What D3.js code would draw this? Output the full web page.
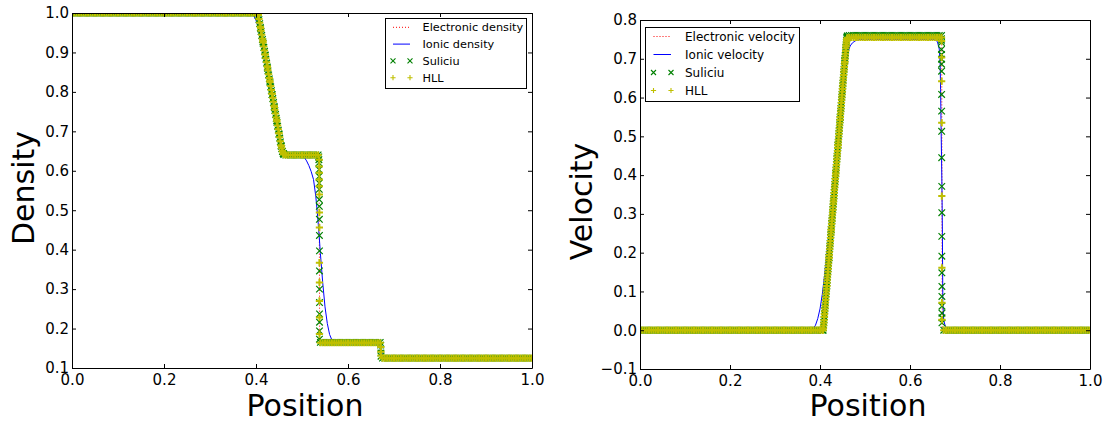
<!DOCTYPE html>
<html><head><meta charset="utf-8">
<script src="https://cdn.jsdelivr.net/npm/d3@7"></script>
<style>
body{margin:0;background:#fff}
svg{display:block}
text{font-family:"DejaVu Sans",sans-serif;fill:#000}
</style>
</head><body>
<svg id="chart" width="1107" height="426"></svg>
<script>
// ---------------- data ----------------
const positionTicks = [0.0, 0.2, 0.4, 0.6, 0.8, 1.0];
const densityTicks = [0.1, 0.2, 0.3, 0.4, 0.5, 0.6, 0.7, 0.8, 0.9, 1.0];
const velocityTicks = [-0.1, 0.0, 0.1, 0.2, 0.3, 0.4, 0.5, 0.6, 0.7, 0.8];
const densityLegend = ["Electronic density", "Ionic density", "Suliciu", "HLL"];
const velocityLegend = ["Electronic velocity", "Ionic velocity", "Suliciu", "HLL"];

// mesh cell positions (201 cells on [0,1])
const meshPositions = d3.range(201).map(i => i / 200);

const densitySuliciu = [
1,1,1,1,1,1,1,1,1,1,1,1,1,1,1,1,1,1,1,1,
1,1,1,1,1,1,1,1,1,1,1,1,1,1,1,1,1,1,1,1,
1,1,1,1,1,1,1,1,1,1,1,1,1,1,1,1,1,1,1,1,
1,1,1,1,1,1,1,1,1,1,1,1,1,1,1,1,1,1,1,1,
1,
.993,.96,.927,.893,.86,.827,.793,.76,.727,.693,.662,.643,
.64,.64,.64,.64,.64,.64,.64,.64,.64,.64,.64,.64,.64,.64,.64,
.165,.165,.165,.165,.165,.165,.165,.165,.165,.165,
.165,.165,.165,.165,.165,.165,.165,.165,.165,.165,
.165,.165,.165,.165,.165,.165,.165,
.125,.125,.125,.125,.125,.125,.125,.125,.125,.125,
.125,.125,.125,.125,.125,.125,.125,.125,.125,.125,
.125,.125,.125,.125,.125,.125,.125,.125,.125,.125,
.125,.125,.125,.125,.125,.125,.125,.125,.125,.125,
.125,.125,.125,.125,.125,.125,.125,.125,.125,.125,
.125,.125,.125,.125,.125,.125,.125,.125,.125,.125,
.125,.125,.125,.125,.125,.125];
const densityHLL = [
1,1,1,1,1,1,1,1,1,1,1,1,1,1,1,1,1,1,1,1,
1,1,1,1,1,1,1,1,1,1,1,1,1,1,1,1,1,1,1,1,
1,1,1,1,1,1,1,1,1,1,1,1,1,1,1,1,1,1,1,1,
1,1,1,1,1,1,1,1,1,1,1,1,1,1,1,1,1,1,1,1,
1,
.995,.962,.929,.895,.862,.829,.795,.762,.729,.695,.663,.643,
.64,.64,.64,.64,.64,.64,.64,.64,.64,.64,.64,.64,.64,.64,.64,
.164,.164,.164,.164,.164,.164,.164,.164,.164,.164,
.164,.164,.164,.164,.164,.164,.164,.164,.164,.164,
.164,.164,.164,.164,.164,.164,.164,
.125,.125,.125,.125,.125,.125,.125,.125,.125,.125,
.125,.125,.125,.125,.125,.125,.125,.125,.125,.125,
.125,.125,.125,.125,.125,.125,.125,.125,.125,.125,
.125,.125,.125,.125,.125,.125,.125,.125,.125,.125,
.125,.125,.125,.125,.125,.125,.125,.125,.125,.125,
.125,.125,.125,.125,.125,.125,.125,.125,.125,.125,
.125,.125,.125,.125,.125,.125];

// refined samples through the rarefaction fan (density)
const densityFanPositions = [0.4035,0.405,0.4065,0.408,0.4095,0.411,0.4125,0.414,0.4155,0.417,0.4185,0.42,0.4215,0.423,0.4245,0.426,0.4275,0.429,0.4305,0.432,0.4335,0.435,0.4365,0.438,0.4395,0.441,0.4425,0.444,0.4455,0.447,0.4485,0.45,0.4515,0.453,0.4545,0.456,0.4575,0.459,0.4605];
const densitySuliciuFan = [1,.993,.983,.973,.963,.953,.943,.933,.923,.913,.903,.893,.883,.873,.863,.853,.843,.833,.823,.813,.803,.793,.783,.773,.763,.753,.743,.733,.723,.713,.703,.693,.683,.673,.664,.656,.649,.644,.641];
const densityHLLFan = [1,.995,.985,.975,.965,.955,.945,.935,.925,.915,.905,.895,.885,.875,.865,.855,.845,.835,.825,.815,.805,.795,.785,.775,.765,.755,.745,.735,.725,.715,.705,.695,.685,.675,.665,.657,.65,.645,.641];

// samples inside the contact / shock jumps (density)
const densitySuliciuJump = [[0.5365,0.635],[0.5367,0.628],[0.5368,0.620],[0.537,0.603],[0.5372,0.586],[0.5373,0.569],[0.5375,0.553],[0.5376,0.527],[0.5377,0.510],[0.5378,0.477],[0.5379,0.436],[0.538,0.397],[0.538,0.346],[0.538,0.300],[0.5381,0.266],[0.5381,0.237],[0.5381,0.216],[0.538,0.194],[0.538,0.173],[0.6712,0.158],[0.6714,0.148],[0.6716,0.138],[0.6718,0.130]];
const densityHLLJump = [[0.5376,0.628],[0.5376,0.611],[0.5377,0.595],[0.5377,0.578],[0.5377,0.561],[0.5378,0.540],[0.5378,0.494],[0.5378,0.456],[0.5379,0.367],[0.5379,0.317],[0.5379,0.270],[0.538,0.228],[0.538,0.186],[0.6714,0.153],[0.6716,0.141],[0.6718,0.132]];

const electronicDensity = [[0,1],[0.404,1],[0.458,0.64],[0.537,0.64],[0.5385,0.165],[0.6705,0.165],[0.672,0.125],[1,0.125]];
const ionicDensity = [[0,1],[0.385,1],[0.39,0.999],[0.395,0.994],[0.40,0.981],[0.405,0.963],[0.411,0.932],[0.42,0.88],[0.43,0.82],[0.44,0.757],[0.45,0.695],[0.455,0.668],[0.46,0.652],[0.465,0.645],[0.47,0.641],[0.48,0.64],[0.50,0.639],[0.505,0.634],[0.51,0.625],[0.515,0.613],[0.52,0.598],[0.525,0.578],[0.53,0.535],[0.534,0.485],[0.537,0.44],[0.54,0.39],[0.545,0.317],[0.55,0.255],[0.555,0.213],[0.56,0.185],[0.565,0.171],[0.572,0.166],[0.58,0.165],[0.665,0.165],[0.668,0.16],[0.672,0.145],[0.676,0.13],[0.68,0.126],[0.69,0.125],[1,0.125]];

const velocitySuliciu = [
0,0,0,0,0,0,0,0,0,0,0,0,0,0,0,0,0,0,0,0,
0,0,0,0,0,0,0,0,0,0,0,0,0,0,0,0,0,0,0,0,
0,0,0,0,0,0,0,0,0,0,0,0,0,0,0,0,0,0,0,0,
0,0,0,0,0,0,0,0,0,0,0,0,0,0,0,0,0,0,0,0,
0,0,
.041,.114,.187,.259,.332,.404,.477,.549,.622,.695,.755,
.76,.76,.76,.76,.76,.76,.76,.76,.76,.76,
.76,.76,.76,.76,.76,.76,.76,.76,.76,.76,
.76,.76,.76,.76,.76,.76,.76,.76,.76,.76,
.76,.76,.76,.76,.76,.76,.76,.76,.76,.76,
.76,.76,
0,0,0,0,0,0,0,0,0,0,0,0,0,0,0,0,0,0,0,0,
0,0,0,0,0,0,0,0,0,0,0,0,0,0,0,0,0,0,0,0,
0,0,0,0,0,0,0,0,0,0,0,0,0,0,0,0,0,0,0,0,
0,0,0,0,0,0];
const velocityHLL = [
0,0,0,0,0,0,0,0,0,0,0,0,0,0,0,0,0,0,0,0,
0,0,0,0,0,0,0,0,0,0,0,0,0,0,0,0,0,0,0,0,
0,0,0,0,0,0,0,0,0,0,0,0,0,0,0,0,0,0,0,0,
0,0,0,0,0,0,0,0,0,0,0,0,0,0,0,0,0,0,0,0,
0,0,
.041,.114,.187,.259,.332,.404,.477,.549,.622,.692,.751,
.755,.755,.755,.755,.755,.755,.755,.755,.755,.755,
.755,.755,.755,.755,.755,.755,.755,.755,.755,.755,
.755,.755,.755,.755,.755,.755,.755,.755,.755,.755,
.755,.755,.755,.755,.755,.755,.755,.755,.755,.755,
.755,.755,
0,0,0,0,0,0,0,0,0,0,0,0,0,0,0,0,0,0,0,0,
0,0,0,0,0,0,0,0,0,0,0,0,0,0,0,0,0,0,0,0,
0,0,0,0,0,0,0,0,0,0,0,0,0,0,0,0,0,0,0,0,
0,0,0,0,0,0];

// refined samples through the velocity ramp (x from 0.407 to 0.461, every 0.0005)
const velocityFanPositions = [
0.407,0.4075,0.408,0.4085,0.409,0.4095,0.41,0.4105,0.411,0.4115,
0.412,0.4125,0.413,0.4135,0.414,0.4145,0.415,0.4155,0.416,0.4165,
0.417,0.4175,0.418,0.4185,0.419,0.4195,0.42,0.4205,0.421,0.4215,
0.422,0.4225,0.423,0.4235,0.424,0.4245,0.425,0.4255,0.426,0.4265,
0.427,0.4275,0.428,0.4285,0.429,0.4295,0.43,0.4305,0.431,0.4315,
0.432,0.4325,0.433,0.4335,0.434,0.4345,0.435,0.4355,0.436,0.4365,
0.437,0.4375,0.438,0.4385,0.439,0.4395,0.44,0.4405,0.441,0.4415,
0.442,0.4425,0.443,0.4435,0.444,0.4445,0.445,0.4455,0.446,0.4465,
0.447,0.4475,0.448,0.4485,0.449,0.4495,0.45,0.4505,0.451,0.4515,
0.452,0.4525,0.453,0.4535,0.454,0.4545,0.455,0.4555,0.456,0.4565,
0.457,0.4575,0.458,0.4585,0.459,0.4595,0.46,0.4605,0.461];
const velocityHLLFan = [
0,.005,.012,.019,.026,.034,.041,.049,.056,.063,
.071,.078,.085,.093,.1,.107,.114,.122,.129,.136,
.143,.151,.158,.165,.172,.18,.187,.194,.201,.209,
.216,.223,.23,.238,.245,.252,.259,.267,.274,.281,
.288,.296,.303,.31,.317,.325,.332,.339,.346,.354,
.361,.368,.375,.383,.39,.397,.404,.412,.419,.426,
.433,.441,.448,.455,.462,.47,.477,.484,.491,.499,
.506,.513,.52,.528,.535,.542,.549,.557,.564,.571,
.578,.586,.593,.6,.607,.615,.622,.629,.636,.644,
.651,.658,.665,.672,.679,.686,.692,.699,.706,.713,
.72,.727,.733,.739,.744,.748,.751,.753,.754];
const velocitySuliciuFan = [
0,.006,.013,.02,.027,.035,.042,.05,.057,.064,
.072,.079,.086,.094,.101,.108,.115,.123,.13,.137,
.144,.152,.159,.166,.173,.181,.188,.195,.202,.21,
.217,.224,.231,.239,.246,.253,.26,.268,.275,.282,
.289,.297,.304,.311,.318,.326,.333,.34,.347,.355,
.362,.369,.376,.384,.391,.398,.405,.413,.42,.427,
.434,.442,.449,.456,.463,.471,.478,.485,.492,.5,
.507,.514,.521,.529,.536,.543,.55,.558,.565,.572,
.579,.587,.594,.601,.608,.616,.623,.63,.637,.645,
.652,.659,.666,.673,.68,.687,.694,.701,.708,.715,
.722,.729,.736,.742,.747,.752,.755,.758,.759];

const velocitySuliciuJump = [[0.6698,0.752],[0.6699,0.748],[0.67,0.742],[0.67,0.724],[0.6701,0.711],[0.6701,0.699],[0.6702,0.686],[0.6702,0.668],[0.6703,0.608],[0.6703,0.565],[0.6704,0.513],[0.6705,0.445],[0.6706,0.371],[0.6707,0.303],[0.6707,0.242],[0.6708,0.191],[0.6708,0.148],[0.6709,0.113],[0.6709,0.087],[0.671,0.062],[0.671,0.044],[0.671,0.032],[0.671,0.019]];
const velocityHLLJump = [[0.6702,0.746],[0.6703,0.703],[0.6704,0.642],[0.6705,0.535],[0.6707,0.346],[0.6709,0.161],[0.671,0.071],[0.671,0.027]];

const electronicVelocity = [[0,0],[0.407,0],[0.459,0.755],[0.6705,0.755],[0.6715,0],[1,0]];
const ionicVelocity = [[0,0],[0.38,0],[0.385,0.004],[0.39,0.013],[0.395,0.03],[0.40,0.055],[0.405,0.092],[0.41,0.14],[0.415,0.195],[0.42,0.25],[0.425,0.305],[0.43,0.36],[0.435,0.415],[0.44,0.47],[0.445,0.53],[0.45,0.585],[0.455,0.645],[0.459,0.695],[0.463,0.72],[0.467,0.733],[0.472,0.741],[0.478,0.746],[0.485,0.749],[0.495,0.75],[0.655,0.75],[0.661,0.744],[0.665,0.725],[0.667,0.69],[0.668,0.62],[0.669,0.53],[0.67,0.45],[0.671,0.37],[0.672,0.25],[0.6725,0.15],[0.673,0.07],[0.675,0.025],[0.679,0.008],[0.685,0],[1,0]];

// ---------------- drawing ----------------
const svg = d3.select("#chart");
const COLORS = {electronic: "#ff0000", ionic: "#0000ff", suliciu: "#008000", hll: "#bfbf00"};

function crossPath(h) { return `M${-h},${-h}L${h},${h}M${-h},${h}L${h},${-h}`; }
function plusPath(h) { return `M${-h},0L${h},0M0,${-h}L0,${h}`; }

function combine(positions, values) { return d3.zip(positions, values).filter(d => d[1] !== undefined); }

function drawPanel(o) {
  const x = d3.scaleLinear().domain([0, 1]).range([o.left, o.right]);
  const y = d3.scaleLinear().domain(o.yDomain).range([o.bottom, o.top]);
  const clipId = "clip-" + o.id;
  svg.append("clipPath").attr("id", clipId).append("rect")
    .attr("x", o.left).attr("y", o.top).attr("width", o.right - o.left).attr("height", o.bottom - o.top);

  const plot = svg.append("g").attr("clip-path", `url(#${clipId})`);
  const line = d3.line().x(d => x(d[0])).y(d => y(d[1]));

  plot.append("path").datum(o.electronic).attr("d", line).attr("fill", "none")
    .attr("stroke", COLORS.electronic).attr("stroke-width", 1).attr("stroke-dasharray", "1,2");
  plot.append("path").datum(o.ionic).attr("d", line).attr("fill", "none")
    .attr("stroke", COLORS.ionic).attr("stroke-width", 1);

  const sul = plot.append("g").attr("stroke", COLORS.suliciu).attr("stroke-width", 1.2).attr("fill", "none");
  sul.selectAll("path").data(o.suliciu).join("path")
    .attr("transform", d => `translate(${x(d[0])},${y(d[1])})`).attr("d", crossPath(3.3));
  const hll = plot.append("g").attr("stroke", COLORS.hll).attr("stroke-width", 2).attr("fill", "none");
  hll.selectAll("path").data(o.hll).join("path")
    .attr("transform", d => `translate(${x(d[0])},${y(d[1])})`).attr("d", plusPath(3.6));

  // axes (ticks inside on all four sides)
  const fmt = d => (d < 0 ? "\u2212" : "") + Math.abs(d).toFixed(1);
  const styleAxis = g => {
    g.selectAll(".domain").attr("stroke", "#000").attr("stroke-width", 1);
    g.selectAll(".tick line").attr("stroke", "#000").attr("stroke-width", 1);
    g.selectAll("text").attr("font-size", 15).attr("font-family", "DejaVu Sans").attr("fill", "#000");
    g.attr("font-family", null).attr("font-size", null);
  };
  svg.append("g").attr("transform", `translate(0,${o.bottom})`)
    .call(d3.axisBottom(x).tickValues(positionTicks).tickFormat(fmt).tickSizeInner(-4).tickSizeOuter(0).tickPadding(6.4))
    .call(styleAxis);
  svg.append("g").attr("transform", `translate(0,${o.top})`)
    .call(d3.axisTop(x).tickValues(positionTicks).tickFormat("").tickSizeInner(-4).tickSizeOuter(0))
    .call(styleAxis);
  svg.append("g").attr("transform", `translate(${o.left},0)`)
    .call(d3.axisLeft(y).tickValues(o.yTicks).tickFormat(fmt).tickSizeInner(-4).tickSizeOuter(0).tickPadding(3))
    .call(styleAxis);
  svg.append("g").attr("transform", `translate(${o.right},0)`)
    .call(d3.axisRight(y).tickValues(o.yTicks).tickFormat("").tickSizeInner(-4).tickSizeOuter(0))
    .call(styleAxis);

  // axis titles
  svg.append("text").attr("x", (o.left + o.right) / 2 + 3).attr("y", o.xTitleBaseline)
    .attr("text-anchor", "middle").attr("font-size", 30).text("Position");
  svg.append("text").attr("transform", `translate(${o.yTitleX},${o.yTitleY}) rotate(-90)`)
    .attr("text-anchor", "middle").attr("font-size", 30).text(o.yTitle);

  // legend
  const L = o.legend;
  const lg = svg.append("g");
  lg.append("rect").attr("x", L.x + 0.5).attr("y", L.y + 0.5).attr("width", L.w).attr("height", L.h)
    .attr("fill", "#fff").attr("stroke", "#000").attr("stroke-width", 1);
  o.legendLabels.forEach((label, i) => {
    const cy = L.y + L.first + i * L.step;
    const a = L.x + L.h1, b = L.x + L.h2;
    if (i === 0) lg.append("line").attr("x1", a).attr("x2", b).attr("y1", cy).attr("y2", cy)
      .attr("stroke", COLORS.electronic).attr("stroke-width", 1).attr("stroke-dasharray", "1,2");
    if (i === 1) lg.append("line").attr("x1", a).attr("x2", b).attr("y1", cy).attr("y2", cy)
      .attr("stroke", COLORS.ionic).attr("stroke-width", 1);
    if (i === 2) [a, b].forEach(px => lg.append("path").attr("transform", `translate(${px},${cy})`)
      .attr("d", crossPath(2.5)).attr("stroke", COLORS.suliciu).attr("stroke-width", 1.1).attr("fill", "none"));
    if (i === 3) [a, b].forEach(px => lg.append("path").attr("transform", `translate(${px},${cy})`)
      .attr("d", plusPath(2.6)).attr("stroke", COLORS.hll).attr("stroke-width", 1.1).attr("fill", "none"));
    lg.append("text").attr("x", L.x + L.tx).attr("y", cy).attr("dy", "0.36em")
      .attr("font-size", L.font).text(label);
  });
}

drawPanel({
  id: "density", left: 72, right: 532, top: 13, bottom: 368,
  yDomain: [0.1, 1.0], yTicks: densityTicks, yTitle: "Density",
  yTitleX: 33.5, yTitleY: 188, xTitleBaseline: 416,
  electronic: electronicDensity, ionic: ionicDensity,
  suliciu: combine(meshPositions, densitySuliciu).concat(combine(densityFanPositions, densitySuliciuFan), densitySuliciuJump),
  hll: combine(meshPositions, densityHLL).concat(combine(densityFanPositions, densityHLLFan), densityHLLJump),
  legendLabels: densityLegend,
  legend: {x: 385, y: 18, w: 141, h: 70, first: 9.3, step: 16.8, h1: 8, h2: 25, tx: 37.5, font: 11.3}
});

drawPanel({
  id: "velocity", left: 640, right: 1090, top: 20, bottom: 369,
  yDomain: [-0.1, 0.8], yTicks: velocityTicks, yTitle: "Velocity",
  yTitleX: 591.5, yTitleY: 201.5, xTitleBaseline: 415.5,
  electronic: electronicVelocity, ionic: ionicVelocity,
  suliciu: combine(meshPositions, velocitySuliciu).concat(combine(velocityFanPositions, velocitySuliciuFan), velocitySuliciuJump),
  hll: combine(meshPositions, velocityHLL).concat(combine(velocityFanPositions, velocityHLLFan), velocityHLLJump),
  legendLabels: velocityLegend,
  legend: {x: 645, y: 27, w: 154, h: 74, first: 9.5, step: 18, h1: 8.5, h2: 26, tx: 40, font: 12}
});
</script>
</body></html>
